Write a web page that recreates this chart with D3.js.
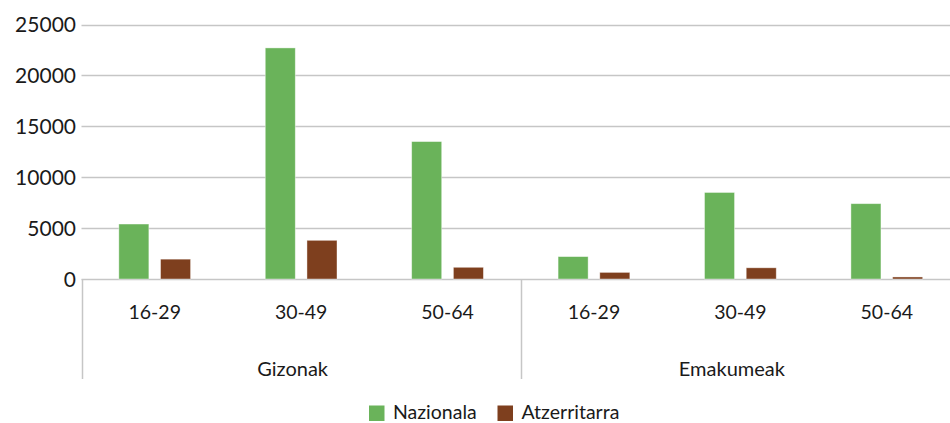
<!DOCTYPE html>
<html><head><meta charset="utf-8">
<script src="https://cdn.jsdelivr.net/npm/d3@7"></script>
<style>body{margin:0;background:#fff}svg{display:block;font-family:Lato,"Open Sans",sans-serif}</style>
</head><body><svg id="c" width="950" height="423"></svg>
<script>
const groups = ["Gizonak","Emakumeak"];
const ages = ["16-29","30-49","50-64"];
const series = ["Nazionala","Atzerritarra"];
const nazionala = [5400, 22700, 13500, 2200, 8500, 7400];
const atzerritarra = [1950, 3800, 1150, 650, 1100, 200];
const yTicks = [0,5000,10000,15000,20000,25000];
const colors = ["#6ab35a","#7e3f1e"];

const cats = [];
groups.forEach(g => ages.forEach(a => cats.push(g+"|"+a)));
const vals = [nazionala, atzerritarra];

const svg = d3.select("#c");
const left = 81.5, right = 960;
const y = d3.scaleLinear().domain([0,25000]).range([279,24.5]);
const x = d3.scaleBand().domain(cats).range([left,right]).paddingInner(0.51).paddingOuter(0.255);
const xs = d3.scaleBand().domain(series).range([0,x.bandwidth()]).paddingInner(0.28);

// gridlines
svg.append("g").selectAll("line").data(yTicks).join("line")
  .attr("x1",left).attr("x2",950).attr("y1",d=>Math.round(y(d))+0.5).attr("y2",d=>Math.round(y(d))+0.5)
  .attr("stroke","#c6c6c6").attr("stroke-width",1.5);

// y labels
svg.append("g").selectAll("text").data(yTicks).join("text")
  .attr("x",76).attr("y",d=>y(d)+7.5).attr("text-anchor","end")
  .attr("font-size",21).attr("fill","#1a1a1a").text(d=>d);

// bars
series.forEach((s,si)=>{
  svg.append("g").selectAll("rect").data(cats).join("rect")
    .attr("x",d=>x(d)+xs(s)).attr("width",xs.bandwidth())
    .attr("y",(d,i)=>y(vals[si][i])).attr("height",(d,i)=>y(0)-y(vals[si][i]))
    .attr("fill",colors[si]).attr("stroke","#ffffff").attr("stroke-opacity",0.5).attr("stroke-width",0.8);
});

// category axis
const step = x.step();
const bounds = [0,3,6].map(i => left + i*step);
svg.append("g").selectAll("line").data(bounds).join("line")
  .attr("x1",d=>Math.round(d)+0.5).attr("x2",d=>Math.round(d)+0.5).attr("y1",279).attr("y2",379)
  .attr("stroke","#c6c6c6").attr("stroke-width",1.5);
svg.append("g").selectAll("text").data(cats).join("text")
  .attr("x",d=>x(d)+x.bandwidth()/2).attr("y",319).attr("text-anchor","middle")
  .attr("font-size",19.5).attr("fill","#1a1a1a").text(d=>d.split("|")[1]);
svg.append("g").selectAll("text").data(groups).join("text")
  .attr("x",(d,i)=>left + (i*3+1.5)*step - 8.5).attr("y",376).attr("text-anchor","middle")
  .attr("font-size",20).attr("fill","#1a1a1a").text(d=>d);

// legend
const lx = [369, 497.5];
const lg = svg.append("g");
series.forEach((s,i)=>{
  lg.append("rect").attr("x",lx[i]).attr("y",405.5).attr("width",15.5).attr("height",15.5).attr("fill",colors[i]);
  lg.append("text").attr("x",lx[i]+24).attr("y",419).attr("font-size",19.5).attr("fill","#1a1a1a").text(s);
});
</script></body></html>
